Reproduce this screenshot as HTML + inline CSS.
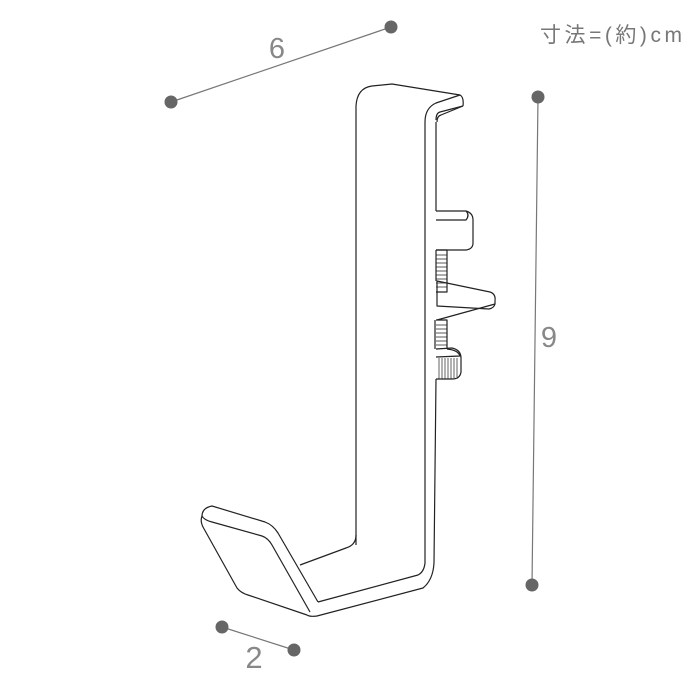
<!DOCTYPE html>
<html><head><meta charset="utf-8"><style>
html,body{margin:0;padding:0;background:#fff;}
svg{display:block}
text{font-family:"Liberation Sans","Noto Sans CJK JP",sans-serif;fill:#888;}
</style></head><body>
<svg width="700" height="700" viewBox="0 0 700 700" xmlns="http://www.w3.org/2000/svg">
<g stroke="#777" stroke-width="1.2">
<line x1="171" y1="102" x2="391" y2="27"/>
<line x1="538" y1="97" x2="532" y2="585"/>
<line x1="222" y1="627" x2="294" y2="650"/>
</g>
<g fill="#666">
<circle cx="171" cy="102" r="6.5"/><circle cx="391" cy="27" r="6.5"/>
<circle cx="538" cy="97" r="6.5"/><circle cx="532" cy="585" r="6.5"/>
<circle cx="222" cy="627" r="6.5"/><circle cx="294" cy="650" r="6.5"/>
</g>
<text x="277" y="58" font-size="29" text-anchor="middle">6</text>
<text x="549" y="347" font-size="29" text-anchor="middle">9</text>
<text x="254" y="668" font-size="31" text-anchor="middle">2</text>
<text x="540" y="42" font-size="21" textLength="142" lengthAdjust="spacing" style="fill:#777">寸法=(約)cm</text>

<g fill="none" stroke="#222" stroke-width="1.2" stroke-linejoin="round">
<path d="M356,545 L356,106 Q357,88 372,86 L392,84 L460,95 Q464,97 463,106"/>
<path d="M463,106 L440,112 Q436,113 436,120"/>
<path d="M463,106 L441,115 Q437,116 437,122"/>
<path d="M460,95 L436,103 Q425,108 425,122 L425,563 Q424,572 418,575 L318,602"/>
<path d="M436,122 L436,211 M436,250 L436,281 M435,320 L435,349 M436,379 L434,563 Q433,580 423,588 L317,616 Q310,617 307,615"/>
<path d="M356,535 Q356,545 346,548 L300,565"/>
<path d="M202,516 Q202,508 212,506 L265,522 Q273,525 278,533 L318,602"/>
<path d="M202,516 Q204,520 212,522 L262,536 Q268,538 272,545 L310,612"/>
<path d="M202,516 Q200,521 203,527 L237,588 Q241,593 248,595 L307,615"/>
<path d="M436,211 L466,211 Q473,213 473,220 L473,243 Q473,249 466,250 L436,250"/>
<path d="M466,211 Q470,215 466,220 L436,220"/>
<path d="M436,250 L447,250 L447,292 L436,292"/>
<g stroke-width="0.8"><path d="M436,255h11M436,259h11M436,263h11M436,267h11M436,271h11M436,275h11M436,279h11M436,283h11M436,287h11"/></g>
<path d="M437,281 L490,292 Q496,294 495,301 L495,304 Q494,308 489,309 L437,306 Z"/>
<path d="M495,304 L437,320"/>
<path d="M436,320 L447,320 L447,349"/>
<g stroke-width="0.8"><path d="M436,325h11M436,329h11M436,333h11M436,337h11M436,341h11M436,345h11"/></g>
<path d="M436,349 L452,348 Q461,350 461,358 L461,372 Q460,379 452,379 L436,379"/>
<path d="M447,349 Q458,350 460,356 L436,357"/>
<g stroke-width="0.7"><path d="M439,358v21M442,358v21M445,358v21M448,358v21M451,358v21M454,358v20M457,358v19"/></g>
</g>
</svg>
</body></html>
